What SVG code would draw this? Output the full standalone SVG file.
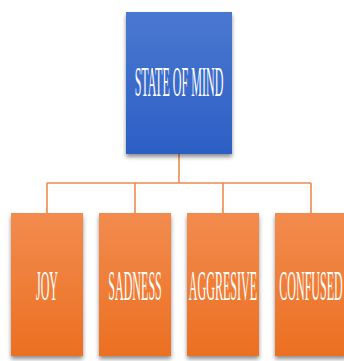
<svg xmlns="http://www.w3.org/2000/svg" width="344" height="361" viewBox="0 0 344 361">
<defs>
<linearGradient id="gb" x1="0" y1="0" x2="0" y2="1">
<stop offset="0" stop-color="#4a78d0"/>
<stop offset="1" stop-color="#2c5fc4"/>
</linearGradient>
<linearGradient id="go" x1="0" y1="0" x2="0" y2="1">
<stop offset="0" stop-color="#f28c4e"/>
<stop offset="1" stop-color="#ec6f22"/>
</linearGradient>
<filter id="sh" x="-20%" y="-20%" width="140%" height="140%">
<feGaussianBlur in="SourceAlpha" stdDeviation="2"/>
<feOffset dx="0" dy="3"/>
<feComponentTransfer><feFuncA type="linear" slope="0.45"/></feComponentTransfer>
<feMerge><feMergeNode/><feMergeNode in="SourceGraphic"/></feMerge>
</filter>
</defs>
<style>
.t{font-family:"Liberation Serif","Times New Roman",serif;fill:#ffffff;font-size:42px;text-anchor:middle}
.c{fill:none;stroke:#ef8a4e;stroke-width:1.6}
</style>
<rect width="344" height="361" fill="#ffffff"/>
<g id="connectors">
<path class="c" d="M179 154V183M47 183H311M47 183V213M135 183V213M223 183V213M311 183V213"/>
</g>
<g id="state-of-mind">
<rect x="126" y="12" width="106" height="142" fill="url(#gb)" filter="url(#sh)"/>
<text class="t" transform="translate(179 96) scale(0.287 1)">STATE OF MIND</text>
</g>
<g id="joy">
<rect x="11" y="213" width="72" height="143" fill="url(#go)" filter="url(#sh)"/>
<text class="t" transform="translate(47 300) scale(0.287 1)">JOY</text>
</g>
<g id="sadness">
<rect x="99" y="213" width="72" height="143" fill="url(#go)" filter="url(#sh)"/>
<text class="t" transform="translate(135 300) scale(0.287 1)">SADNESS</text>
</g>
<g id="aggresive">
<rect x="187" y="213" width="72" height="143" fill="url(#go)" filter="url(#sh)"/>
<text class="t" transform="translate(223 300) scale(0.287 1)">AGGRESIVE</text>
</g>
<g id="confused">
<rect x="275" y="213" width="72" height="143" fill="url(#go)" filter="url(#sh)"/>
<text class="t" transform="translate(311 300) scale(0.287 1)">CONFUSED</text>
</g>
</svg>
